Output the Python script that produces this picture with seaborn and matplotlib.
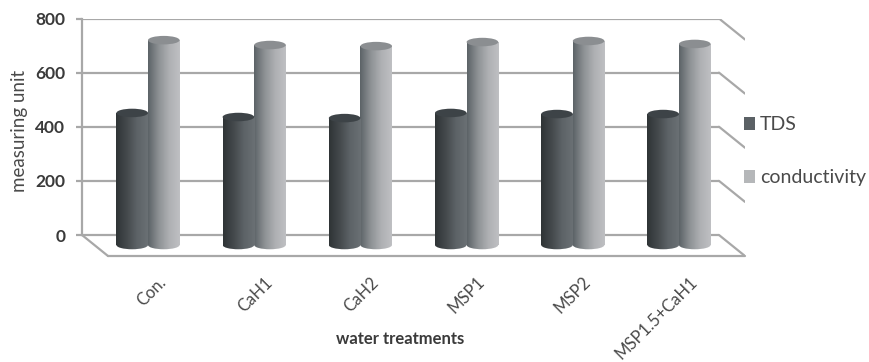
import numpy as np
import pandas as pd
import matplotlib
matplotlib.use("Agg")
import matplotlib.pyplot as plt
from matplotlib.colors import LinearSegmentedColormap
from matplotlib.patches import Ellipse
from matplotlib.transforms import ScaledTranslation
import seaborn as sns

categories = ["Con.", "CaH1", "CaH2", "MSP1", "MSP2", "MSP1.5+CaH1"]
tds = [451, 436, 432, 451, 447, 447]
conductivity = [720, 702, 698, 713, 717, 706]
y_ticks = [0, 200, 400, 600, 800]
series_names = ["TDS", "conductivity"]

W, H = 870, 362
sns.set_theme(style="white")
plt.rcParams["font.family"] = ["Lato", "DejaVu Sans"]
TXT = "#4a4a4a"
LINE = "#a8a8a8"

# pixel geometry of the pseudo-3D box
PX_Y0, PX_Y800 = 235.0, 18.5
PX_FLOOR = 256.0
PX_LEFT, PX_RIGHT_BACK, PX_RIGHT = 82.0, 719.0, 745.0
PX_CAT0, PX_STEP = 148.0, 106.2
ppu = (PX_Y0 - PX_Y800) / 800.0
ymin = (PX_Y0 - PX_FLOOR) / ppu
xl = (PX_LEFT - PX_CAT0) / PX_STEP
xr = (PX_RIGHT - PX_CAT0) / PX_STEP
xb = (PX_RIGHT_BACK - PX_CAT0) / PX_STEP
x_front0 = (108.0 - PX_CAT0) / PX_STEP
BAR_FLOOR = -37.0
ELL_H = 8.5 / ppu

df = pd.DataFrame({
    "cat": categories * 2,
    "series": [series_names[0]] * 6 + [series_names[1]] * 6,
    "value": tds + conductivity,
})

fig = plt.figure(figsize=(W / 100, H / 100), dpi=100, facecolor="white")
ax = fig.add_axes([PX_LEFT / W, 1 - PX_FLOOR / H, (PX_RIGHT - PX_LEFT) / W, (PX_FLOOR - PX_Y800) / H])

sns.barplot(data=df, x="cat", y="value", hue="series",
            palette=["#5b6165", "#b5b7b9"], width=0.595, gap=0,
            saturation=1, ax=ax, zorder=3, linewidth=0, edgecolor="none")

# box lines
for v in y_ticks:
    ax.plot([xl, xb], [v, v], color=LINE, lw=1.6, zorder=1, solid_capstyle="butt")
    ax.plot([xb, xr], [v, v + ymin], color=LINE, lw=1.6, zorder=1)
ax.plot([xl, x_front0], [0, ymin], color=LINE, lw=1.6, zorder=1, clip_on=False)
ax.plot([x_front0, xr], [ymin, ymin], color=LINE, lw=1.6, zorder=1, clip_on=False)

cm_a = LinearSegmentedColormap.from_list("a", ["#2f3436", "#44494c", "#5d6367", "#6a7074"])
cm_b = LinearSegmentedColormap.from_list("b", ["#5c6367", "#8d9194", "#aeb0b3", "#bfc0c3"])

bars = [p for p in ax.patches]
n = len(categories)
grad = np.linspace(0, 1, 128).reshape(1, -1)
# conductivity first, so that TDS sits in front of it at the base
for idx in list(range(n, 2 * n)) + list(range(n)):
    b = bars[idx]
    top = b.get_height()
    x0, w = b.get_x(), b.get_width()
    b.set_y(BAR_FLOOR)
    b.set_height(top - BAR_FLOOR)
    is_tds = idx < n
    z = 3.2 if is_tds else 3.0
    cm = cm_a if is_tds else cm_b
    im = ax.imshow(grad, extent=[x0, x0 + w, BAR_FLOOR - ELL_H, top], cmap=cm,
                   aspect="auto", zorder=z, vmin=0, vmax=1)
    b.set_zorder(z - 0.1)
    im.set_clip_path(b)
    bot = Ellipse((x0 + w / 2, BAR_FLOOR), w, ELL_H, fc="none", ec="none", zorder=z)
    ax.add_patch(bot)
    im2 = ax.imshow(grad, extent=[x0, x0 + w, BAR_FLOOR - ELL_H, top], cmap=cm,
                    aspect="auto", zorder=z, vmin=0, vmax=1)
    im2.set_clip_path(bot)
    ax.add_patch(Ellipse((x0 + w / 2, top), w, ELL_H,
                         fc="#3d4347" if is_tds else "#8b8e91", ec="none", zorder=z + 0.05))

ax.set_xlim(xl, xr)
ax.set_ylim(ymin, 800)
sns.despine(ax=ax, top=True, right=True, bottom=True, left=False)
ax.spines["left"].set_bounds(0, 800)
ax.spines["left"].set_color(LINE)
ax.spines["left"].set_linewidth(1.6)

ax.set_yticks(y_ticks)
ax.tick_params(axis="y", left=True, length=4, width=1.6, color=LINE, pad=8,
               labelsize=12.5, labelcolor="#3a3a3a")
for t in ax.get_yticklabels():
    t.set_fontweight("bold")

ax.set_xticks(range(n))
ax.set_xticklabels(categories, rotation=45, ha="right", rotation_mode="anchor",
                   fontsize=12, color=TXT)
ax.tick_params(axis="x", bottom=False, length=0, pad=13)
off = ScaledTranslation(10 / 100, 0, fig.dpi_scale_trans)
for t in ax.get_xticklabels():
    t.set_transform(t.get_transform() + off)

ax.set_xlabel("")
ax.set_ylabel("")
fig.text(19.5 / W, 1 - 131 / H, "measuring unit", rotation=90, ha="center", va="center",
         fontsize=13.5, color=TXT)
fig.text(400 / W, 1 - 339 / H, "water treatments", ha="center", va="center",
         fontsize=12, fontweight="bold", color="#3a3a3a")

fs = 14
sns.move_legend(ax, "upper left", bbox_to_anchor=(744 / W, 1 - 116 / H),
                bbox_transform=fig.transFigure, frameon=False, title=None,
                fontsize=fs, handlelength=11 / (fs / 0.72), handleheight=13 / (fs / 0.72),
                handletextpad=5 / (fs / 0.72), labelspacing=36 / (fs / 0.72),
                borderpad=0, borderaxespad=0)
for t in ax.get_legend().get_texts():
    t.set_color(TXT)

fig.savefig("out.png", dpi=100, facecolor="white")
